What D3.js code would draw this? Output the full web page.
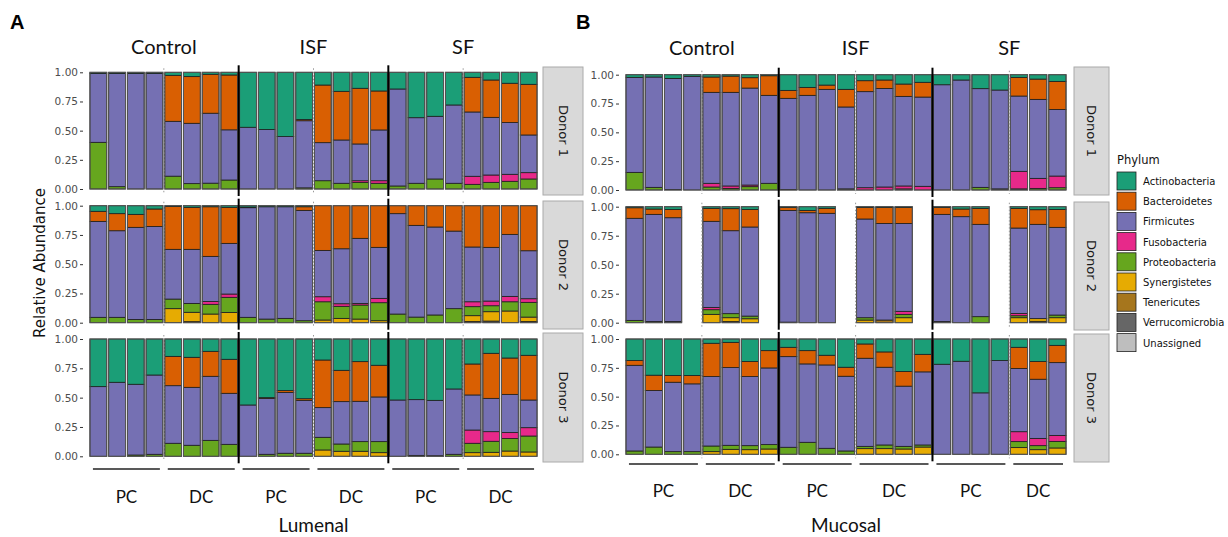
<!DOCTYPE html>
<html>
<head>
<meta charset="utf-8">
<script src="https://cdn.jsdelivr.net/npm/d3@7"></script>
<style>
  body { margin: 0; background: #fff; }
  svg { display: block; }
</style>
</head>
<body>
<svg width="1228" height="537"></svg>
<script>
// phylum order as in legend, stacked with the first one on top
var phyla = ["Actinobacteria", "Bacteroidetes", "Firmicutes", "Fusobacteria", "Proteobacteria",
             "Synergistetes", "Tenericutes", "Verrucomicrobia", "Unassigned"];
var phylumColors = ["#1B9E77", "#D95F02", "#7570B3", "#E7298A", "#66A61E",
                    "#E6AB02", "#A6761D", "#666666", "#BEBEBE"];

var conditions = ["Control", "ISF", "SF"];
var sites = ["PC", "DC"];
var donors = ["Donor 1", "Donor 2", "Donor 3"];
var yTicks = [0, 0.25, 0.5, 0.75, 1];

// each bar: [Actino, Bactero, Firmic, Fuso, Proteo, Synerg, Teneri, Verruco, Unassigned]
// (trailing zeros left out), null = no sample
var lumenalDonor1 = [
  [.01,0,.59,0,.40], [.01,0,.97,0,.02], [.01,0,.99], [.01,0,.99],
  [.026,.394,.47,0,.11], [.037,.40,.517,0,.046], [.017,.334,.60,0,.05], [.023,.47,.43,0,.077],
  [.471,0,.529], [.49,0,.51], [.551,0,.449], [.405,.01,.575,0,.01],
  [.109,.494,.326,0,.071], [.163,.417,.371,0,.049], [.137,.477,.315,.014,.057], [.16,.334,.435,.022,.049],
  [.143,0,.831,0,.026], [.389,0,.562,0,.049], [.377,0,.537,0,.086], [.28,0,.671,0,.049],
  [.043,.297,.551,.069,.04], [.066,.32,.494,.063,.057], [.094,.337,.443,.06,.066], [.103,.434,.323,.054,.086]
];
var lumenalDonor2 = [
  [.048,.086,.82,0,.046], [.068,.146,.74,0,.046], [.074,.111,.787,0,.028], [.028,.149,.795,0,.028],
  [.006,.367,.425,0,.082,.12], [.014,.359,.462,0,.076,.08,.009], [.009,.424,.385,.025,.083,.074], [.014,.308,.433,.028,.129,.088],
  [.012,.005,.937,0,.046], [.009,0,.96,0,.031], [.009,0,.954,0,.037], [.009,.031,.943,0,.017],
  [0,.382,.396,.043,.156,.023], [0,.368,.47,.022,.103,.037], [0,.279,.556,.014,.12,.031], [0,.356,.436,.037,.154,.017],
  [0,.068,.858,0,.074], [0,.168,.784,0,.048], [0,.182,.752,0,.066], [0,.217,.663,0,.12],
  [0,.353,.468,.042,.077,.05,0,.01], [0,.356,.459,.04,.051,.08,0,.014], [0,.245,.53,.046,.079,.1], [0,.385,.41,.031,.126,.038,0,.01]
];
var lumenalDonor3 = [
  [.406,0,.594], [.369,0,.631], [.386,0,.603,0,.011], [.307,0,.676,0,.017],
  [.148,.25,.491,0,.111], [.156,.256,.494,0,.094], [.105,.213,.546,0,.136], [.173,.29,.435,0,.102],
  [.5625,0,.4375], [.5,.006,.477,0,.017], [.44,.015,.519,0,.026], [.509,.014,.451,0,.026],
  [.179,.406,.253,0,.108,.054], [.267,.267,.361,0,.062,.043], [.193,.338,.344,0,.082,.043], [.224,.27,.381,0,.094,.031],
  [.52,0,.48], [.517,0,.475,0,.008], [.523,0,.472,0,0,0,0,.005], [.426,0,.557,0,.017],
  [.213,.264,.299,.113,.08,.031], [.122,.384,.284,.082,.094,.034], [.162,.31,.326,.051,.106,.045], [.139,.381,.236,.071,.136,.037]
];
var mucosalDonor1 = [
  [.023,0,.824,0,.153], [.02,0,.957,0,.023], [.032,0,.963,0,.005], [.014,0,.986],
  [.02,.133,.789,.032,.026], [.012,.141,.812,.021,.014], [.026,.09,.841,.014,.029], [.009,.17,.763,0,.058],
  [.136,.069,.79,0,0,0,0,.005], [.11,.069,.821], [.09,.037,.873], [.127,.153,.71,0,0,0,0,.01],
  [.052,.095,.833,.02], [.046,.073,.855,.026], [.081,.107,.777,.025,0,0,0,.01], [.066,.128,.774,.032],
  [.087,0,.913], [.046,0,.954], [.121,0,.856,0,.023], [.133,0,.857,0,0,0,0,.01],
  [.023,.162,.653,.152,0,0,0,.01], [.038,.176,.685,.087,.014], [.058,.243,.578,.101,.02]
];
var mucosalDonor2 = [
  [.009,.091,.88,0,.02], [.02,.046,.924,0,.01], [.023,.072,.895,0,0,0,0,.01], null,
  [.014,.112,.742,.02,.04,.072], [.017,.19,.715,0,.035,.033,0,.01], [.023,.152,.768,0,.023,.034], null,
  [.007,.025,.963,0,0,0,0,.005], [.032,.02,.948], [.014,.043,.943], null,
  [.006,.1,.851,0,.02,.023], [.006,.138,.833,0,0,0,.023], [.006,.138,.758,.026,.029,.043], null,
  [.006,.06,.924,0,0,0,0,.01], [.02,.066,.914], [.014,.138,.796,0,.052], null,
  [.014,.17,.736,.02,.017,.043], [.026,.126,.813,0,0,.023,0,.012], [.023,.155,.756,0,.023,.043]
];
var mucosalDonor3 = [
  [.187,.041,.743,0,.029], [.314,.133,.49,0,.063], [.317,.058,.602,0,.023], [.317,.072,.588,0,.023],
  [.037,.289,.602,0,.049,.023], [.029,.219,.674,0,.035,.043], [.196,.13,.599,0,.035,.04], [.101,.15,.665,0,.038,.046],
  [.072,.081,.786,0,.061], [.101,.115,.68,0,.104], [.141,.084,.723,0,.052], [.245,.078,.648,0,.029],
  [.043,.124,.764,0,.02,.049], [.112,.133,.674,0,.032,.049], [.282,.127,.522,0,.023,.046], [.133,.152,.634,0,.018,.063],
  [.219,0,.781], [.193,0,.807], [.467,0,.533], [.187,0,.813],
  [.072,.184,.548,.086,.052,.058], [.196,.153,.513,.063,.035,.04], [.055,.15,.631,.052,.057,.055]
];

var svg = d3.select("svg");
var labelFont = "Lato, 'Open Sans', sans-serif";
var smallFont = "'DejaVu Sans', Verdana, sans-serif";

// stack bottom -> top : Unassigned ... Actinobacteria
var stack = d3.stack()
    .keys(d3.range(phyla.length).reverse())
    .value(function (d, k) { return d.v[k] || 0; })
    .offset(d3.stackOffsetExpand);

function drawPanel(cfg) {
    var x = d3.scaleBand()
        .domain(d3.range(cfg.n))
        .range(cfg.xRange)
        .paddingInner(0.1)
        .paddingOuter(0.05);
    var step = x.step(), gap = step - x.bandwidth();

    cfg.rows.forEach(function (row, r) {
        var y = d3.scaleLinear().domain([0, 1]).range([row[1], row[0]]);
        var g = svg.append("g");

        var bars = cfg.data[r]
            .map(function (v, i) { return v ? { pos: i, v: v } : null; })
            .filter(function (d) { return d; });

        var series = stack(bars);
        g.selectAll("g.layer")
            .data(series)
            .enter().append("g")
            .attr("class", "layer")
            .attr("fill", function (s) { return phylumColors[s.key]; })
            .selectAll("rect")
            .data(function (s) { return s; })
            .enter().append("rect")
            .filter(function (d) { return d[1] - d[0] > 0; })
            .attr("x", function (d) { return x(d.data.pos); })
            .attr("width", x.bandwidth())
            .attr("y", function (d) { return y(d[1]); })
            .attr("height", function (d) { return y(d[0]) - y(d[1]); })
            .attr("stroke", "#1e1e1e")
            .attr("stroke-width", 0.8);

        // grey outline round each bar
        g.selectAll("rect.outline")
            .data(bars)
            .enter().append("rect")
            .attr("class", "outline")
            .attr("x", function (d) { return x(d.pos); })
            .attr("width", x.bandwidth())
            .attr("y", y(1))
            .attr("height", y(0) - y(1))
            .attr("fill", "none")
            .attr("stroke", "#555")
            .attr("stroke-width", 1);

        // y axis
        var ax = g.append("g")
            .attr("transform", "translate(" + cfg.axisX + ",0)")
            .call(d3.axisLeft(y).tickValues(yTicks).tickFormat(d3.format(".2f")).tickSize(3).tickPadding(2));
        ax.select(".domain").remove();
        ax.selectAll("line").attr("stroke", "#333");
        ax.selectAll("text").attr("fill", "#4d4d4d").style("font-family", smallFont).style("font-size", "10.5px");

        // PC/DC dotted separators and condition separators
        [0, 8, 16].forEach(function (start) {
            var xd = x(start + 4) - gap / 2;
            if (start + 4 < cfg.n) {
                g.append("line")
                    .attr("x1", xd).attr("x2", xd)
                    .attr("y1", y(1) - 4).attr("y2", y(0) + 4)
                    .attr("stroke", "#999").attr("stroke-width", 1)
                    .attr("stroke-dasharray", "1.5,2");
            }
            if (start > 0) {
                var xs = x(start) - gap / 2;
                g.append("line")
                    .attr("x1", xs).attr("x2", xs)
                    .attr("y1", y(1) - 7).attr("y2", y(0) + 7)
                    .attr("stroke", "#000").attr("stroke-width", 2);
            }
        });

        // strip
        var st = cfg.strips[r];
        svg.append("rect")
            .attr("x", cfg.stripX).attr("y", st[0])
            .attr("width", cfg.stripW).attr("height", st[1] - st[0])
            .attr("fill", "#d9d9d9").attr("stroke", "#aaa").attr("stroke-width", 1);
        svg.append("text")
            .attr("transform", "translate(" + (cfg.stripX + cfg.stripW / 2) + "," + ((st[0] + st[1]) / 2) + ") rotate(90)")
            .attr("text-anchor", "middle")
            .attr("dominant-baseline", "central")
            .style("font-family", smallFont).style("font-size", "13px")
            .attr("fill", "#1a1a1a")
            .text(donors[r]);
    });

    // condition titles, group lines and PC/DC labels
    conditions.forEach(function (c, ci) {
        var start = ci * 8;
        var cx = x(start) + (8 * step - gap) / 2;
        svg.append("text")
            .attr("x", cx).attr("y", cfg.titleY)
            .attr("text-anchor", "middle")
            .style("font-family", labelFont).style("font-size", "20px")
            .attr("fill", "#111")
            .text(c);
        sites.forEach(function (s, si) {
            var a = start + si * 4, b = Math.min(a + 3, cfg.n - 1);
            var x0 = x(a) + 3, x1 = x(b) + x.bandwidth() - 3;
            svg.append("line")
                .attr("x1", x0).attr("x2", x1)
                .attr("y1", cfg.lineY).attr("y2", cfg.lineY)
                .attr("stroke", "#222").attr("stroke-width", 1.3);
            svg.append("text")
                .attr("x", (x0 + x1) / 2).attr("y", cfg.siteY)
                .attr("text-anchor", "middle")
                .attr("dominant-baseline", "central")
                .style("font-family", labelFont).style("font-size", "17px")
                .attr("fill", "#111")
                .text(s);
        });
    });

    svg.append("text")
        .attr("x", (cfg.xRange[0] + cfg.xRange[1]) / 2).attr("y", 524)
        .attr("text-anchor", "middle")
        .attr("dominant-baseline", "central")
        .style("font-family", labelFont).style("font-size", "19px")
        .attr("fill", "#111")
        .text(cfg.name);

    svg.append("text")
        .attr("x", cfg.letterX).attr("y", 29)
        .style("font-family", "'Liberation Sans', Arial, sans-serif")
        .style("font-size", "20px").style("font-weight", "bold")
        .text(cfg.letter);
}

drawPanel({
    name: "Lumenal", letter: "A", letterX: 10,
    n: 24, xRange: [89, 538],
    rows: [[72.3, 189], [205.7, 322.7], [339, 456.3]],
    data: [lumenalDonor1, lumenalDonor2, lumenalDonor3],
    axisX: 83, stripX: 543, stripW: 40,
    strips: [[67, 195], [201, 329], [333, 462]],
    titleY: 54, lineY: 469, siteY: 496
});

drawPanel({
    name: "Mucosal", letter: "B", letterX: 576,
    n: 23, xRange: [625, 1067],
    rows: [[74.7, 190], [206.7, 322.7], [339, 454.3]],
    data: [mucosalDonor1, mucosalDonor2, mucosalDonor3],
    axisX: 619, stripX: 1074, stripW: 35,
    strips: [[67, 195], [202, 330], [334, 462]],
    titleY: 55, lineY: 464, siteY: 490
});

// y axis title
svg.append("text")
    .attr("transform", "translate(40,263) rotate(-90)")
    .attr("text-anchor", "middle")
    .attr("dominant-baseline", "central")
    .style("font-family", smallFont).style("font-size", "15px")
    .attr("fill", "#111")
    .text("Relative Abundance");

// legend
var legend = svg.append("g").attr("transform", "translate(1117,0)");
legend.append("text")
    .attr("x", 0).attr("y", 164)
    .style("font-family", smallFont).style("font-size", "11.5px")
    .attr("fill", "#111")
    .text("Phylum");
var item = legend.selectAll("g.item")
    .data(phyla)
    .enter().append("g")
    .attr("class", "item")
    .attr("transform", function (d, i) { return "translate(0," + (172 + i * 20.2) + ")"; });
item.append("rect")
    .attr("width", 19).attr("height", 18)
    .attr("fill", function (d, i) { return phylumColors[i]; })
    .attr("stroke", "#222").attr("stroke-width", 0.8);
item.append("text")
    .attr("x", 26).attr("y", 9.5)
    .attr("dominant-baseline", "central")
    .style("font-family", smallFont).style("font-size", "10px")
    .attr("fill", "#111")
    .text(function (d) { return d; });
</script>
</body>
</html>
